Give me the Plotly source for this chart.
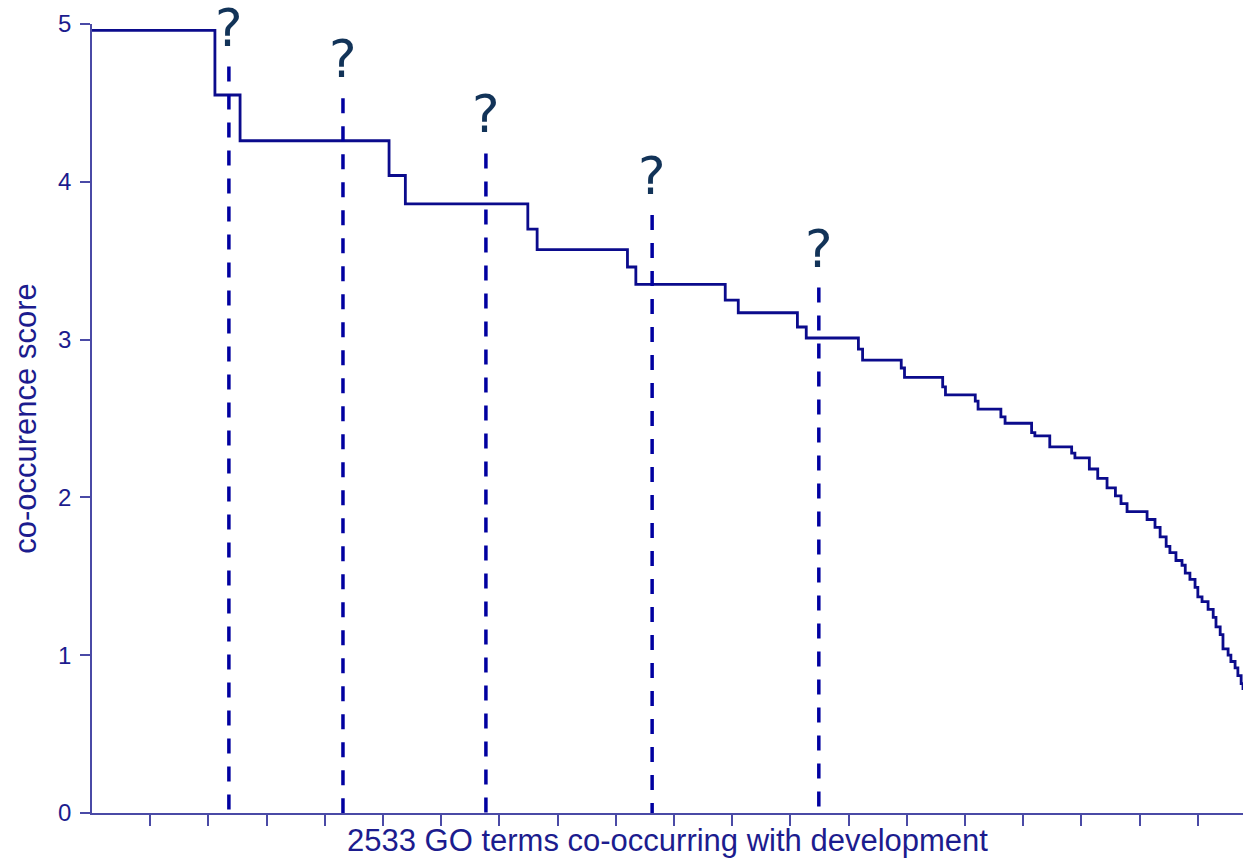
import plotly.graph_objects as go

# Ranked co-occurrence scores: rank at which each score level begins
step_rank = [0, 264, 318, 638, 673, 936, 956, 1150, 1168, 1360, 1388, 1515, 1534,
             1646, 1655, 1738, 1745, 1827, 1833, 1897, 1903, 1952, 1961, 2018, 2025,
             2057, 2104, 2111, 2142, 2160, 2180, 2198, 2210, 2223, 2266, 2283, 2294,
             2307, 2315, 2328, 2341, 2348, 2358, 2369, 2375, 2384, 2397, 2408, 2414,
             2423, 2429, 2440, 2446, 2455, 2461, 2468, 2472]
step_score = [4.96, 4.55, 4.26, 4.04, 3.86, 3.70, 3.57, 3.46, 3.35, 3.25, 3.17, 3.08, 3.01,
              2.94, 2.87, 2.82, 2.76, 2.70, 2.65, 2.61, 2.56, 2.51, 2.47, 2.41, 2.39,
              2.32, 2.28, 2.25, 2.18, 2.12, 2.06, 2.01, 1.96, 1.91, 1.86, 1.81, 1.75,
              1.69, 1.65, 1.60, 1.57, 1.52, 1.48, 1.43, 1.37, 1.34, 1.29, 1.24, 1.18,
              1.13, 1.04, 1.00, 0.96, 0.92, 0.87, 0.82, 0.78]

# Unknown terms marked along the ranking
marker_rank = [294, 539, 846, 1203, 1561]
marker_top = [4.73, 4.53, 4.18, 3.79, 3.33]
marker_label = ["?", "?", "?", "?", "?"]

x_tickvals = list(range(125, 2472, 125))
y_tickvals = [0, 1, 2, 3, 4, 5]

NAVY = "#1c1c8e"
AXIS = "#4a4aa6"

fig = go.Figure()

fig.add_trace(go.Scatter(
    x=step_rank, y=step_score, mode="lines", line_shape="hv",
    line=dict(color="#0b0b8c", width=2.8), hoverinfo="skip", showlegend=False,
))

# dashed drop lines, drawn top-down so the dash pattern starts at the top
for r, top in zip(marker_rank, marker_top):
    fig.add_trace(go.Scatter(
        x=[r, r], y=[top, 0], mode="lines",
        line=dict(color="#0000a0", width=3.5, dash="15px,13px"),
        hoverinfo="skip", showlegend=False,
    ))

for r, top, lab in zip(marker_rank, marker_top, marker_label):
    fig.add_annotation(
        x=r, y=top, text=lab, showarrow=False, xanchor="center", yanchor="bottom",
        yshift=7, font=dict(family="DejaVu Sans", size=52, color="#123358"),
    )

fig.update_layout(
    width=1243, height=859,
    margin=dict(l=92, r=0, t=24, b=46),
    plot_bgcolor="white", paper_bgcolor="white",
    font=dict(family="Liberation Sans", color=NAVY),
    xaxis=dict(
        range=[0, 2472], tickvals=x_tickvals, showticklabels=False,
        ticks="outside", ticklen=11, tickwidth=1.5, tickcolor=AXIS,
        showline=True, linecolor=AXIS, linewidth=1.5,
        showgrid=False, zeroline=False,
        title=dict(text="2533 GO terms co-occurring with development",
                   font=dict(size=31, color=NAVY), standoff=5),
        automargin=False,
    ),
    yaxis=dict(
        range=[0, 5], tickvals=y_tickvals,
        ticks="outside", ticklen=10, tickwidth=1.5, tickcolor=AXIS,
        showline=True, linecolor=AXIS, linewidth=1.5,
        showgrid=False, zeroline=False,
        tickfont=dict(size=24, color=NAVY), ticklabelstandoff=4,
        title=dict(text="co-occurence score", font=dict(size=31, color=NAVY), standoff=12),
        automargin=False,
    ),
)

fig.write_html("out.html")
